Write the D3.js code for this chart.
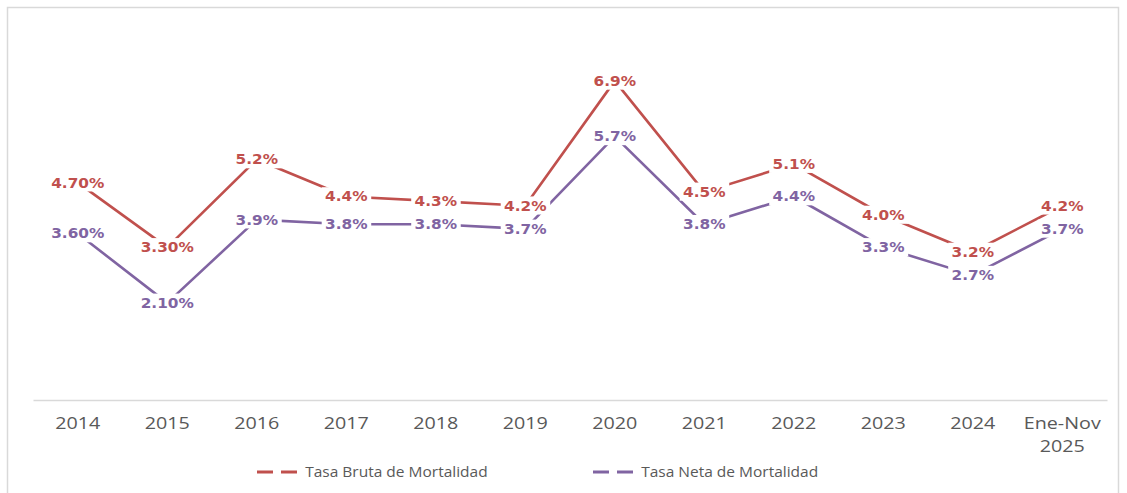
<!DOCTYPE html>
<html>
<head>
<meta charset="utf-8">
<script src="https://cdn.jsdelivr.net/npm/d3@7"></script>
<style>
  html, body { margin: 0; padding: 0; background: #ffffff; }
  svg { display: block; }
</style>
</head>
<body>
<script>
// categorías del eje x
const categories = ["2014", "2015", "2016", "2017", "2018", "2019", "2020", "2021", "2022", "2023", "2024", "Ene-Nov 2025"];

// series
const tasaBruta = [4.70, 3.30, 5.2, 4.4, 4.3, 4.2, 6.9, 4.5, 5.1, 4.0, 3.2, 4.2];
const tasaNeta = [3.60, 2.10, 3.9, 3.8, 3.8, 3.7, 5.7, 3.8, 4.4, 3.3, 2.7, 3.7];

// etiquetas tal como aparecen
const labelsBruta = ["4.70%", "3.30%", "5.2%", "4.4%", "4.3%", "4.2%", "6.9%", "4.5%", "5.1%", "4.0%", "3.2%", "4.2%"];
const labelsNeta = ["3.60%", "2.10%", "3.9%", "3.8%", "3.8%", "3.7%", "5.7%", "3.8%", "4.4%", "3.3%", "2.7%", "3.7%"];

const seriesNames = ["Tasa Bruta de Mortalidad", "Tasa Neta de Mortalidad"];
const yDomain = [0, 8];

const width = 1127;
const height = 493;
const marginTop = 30;
const marginLeft = 33;
const plotRight = 1107;
const plotBottom = 400;

const colors = ["#C0504D", "#8064A2"];

const svg = d3.select("body")
    .append("svg")
    .attr("width", width)
    .attr("height", height);

// borde del área del gráfico
svg.append("rect")
    .attr("x", 7.5)
    .attr("y", 7.5)
    .attr("width", 1111)
    .attr("height", 520)
    .attr("fill", "#ffffff")
    .attr("stroke", "#D9D9D9")
    .attr("stroke-width", 1.5);

const xScale = d3.scaleBand()
    .domain(categories)
    .range([marginLeft, plotRight]);

const yScale = d3.scaleLinear()
    .domain(yDomain)
    .range([plotBottom, marginTop]);

const xPos = (i) => xScale(categories[i]) + xScale.bandwidth() / 2;

// eje x
const xAxis = svg.append("g")
    .attr("transform", "translate(0," + yScale(0) + ")")
    .call(d3.axisBottom(xScale).tickSize(0).tickPadding(0));
xAxis.select(".domain")
    .attr("stroke", "#D9D9D9")
    .attr("stroke-width", 1.5);
xAxis.selectAll(".tick text").remove();
xAxis.selectAll(".tick").each(function (d) {
    const parts = d.split(" ");
    const t = d3.select(this).append("text")
        .attr("transform", "scale(1.16,1)")
        .attr("fill", "#595959")
        .attr("font-family", "'Open Sans', sans-serif")
        .attr("font-size", 17)
        .attr("text-anchor", "middle");
    parts.forEach((p, k) => {
        t.append("tspan")
            .attr("x", 0)
            .attr("y", 29 + k * 23)
            .text(p);
    });
});

// líneas
const line = d3.line()
    .x((d, i) => xPos(i))
    .y((d) => yScale(d));

[tasaBruta, tasaNeta].forEach((values, s) => {
    svg.append("path")
        .datum(values)
        .attr("fill", "none")
        .attr("stroke", colors[s])
        .attr("stroke-width", 2.6)
        .attr("stroke-linejoin", "round")
        .attr("d", line);
});

// etiquetas de datos con fondo blanco
[[tasaBruta, labelsBruta], [tasaNeta, labelsNeta]].forEach(([values, labels], s) => {
    values.forEach((v, i) => {
        const g = svg.append("g")
            .attr("transform", "translate(" + xPos(i) + "," + yScale(v) + ") scale(1.11,1)");
        const bg = g.append("rect").attr("fill", "#ffffff");
        const t = g.append("text")
            .attr("text-anchor", "middle")
            .attr("dy", "0.36em")
            .attr("fill", colors[s])
            .attr("font-family", "'DejaVu Sans', Verdana, sans-serif")
            .attr("font-weight", "bold")
            .attr("font-size", 13.8)
            .text(labels[i]);
        const b = t.node().getBBox();
        bg.attr("x", b.x - 3)
            .attr("y", b.y - 1)
            .attr("width", b.width + 6)
            .attr("height", b.height + 2);
    });
});

// leyenda
const legendX = [257, 593];
const legend = svg.append("g").attr("transform", "translate(0,472)");
seriesNames.forEach((name, s) => {
    const g = legend.append("g").attr("transform", "translate(" + legendX[s] + ",0)");
    g.append("line")
        .attr("x1", 0)
        .attr("x2", 41)
        .attr("y1", 0)
        .attr("y2", 0)
        .attr("stroke", colors[s])
        .attr("stroke-width", 3)
        .attr("stroke-dasharray", "16,8");
    g.append("text")
        .attr("x", 45)
        .attr("dy", "0.35em")
        .attr("transform", "scale(1.07,1)")
        .attr("fill", "#595959")
        .attr("font-family", "'Open Sans', sans-serif")
        .attr("font-size", 14.5)
        .text(name);
});
</script>
</body>
</html>
